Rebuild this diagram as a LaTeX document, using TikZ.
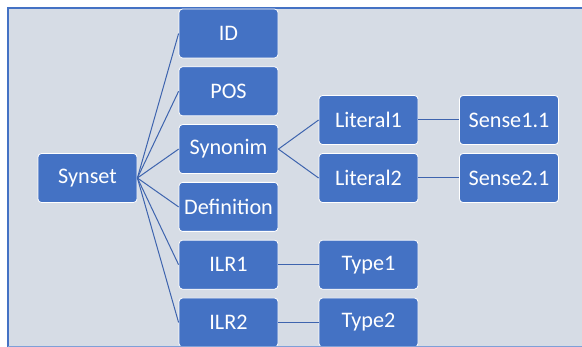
\documentclass[tikz,border=0pt]{standalone}
\usepackage{fontspec}
\setmainfont{Carlito}
\definecolor{boxblue}{HTML}{4472C4}
\definecolor{bgblue}{HTML}{D6DCE5}
\definecolor{linkblue}{HTML}{3E64AE}
\definecolor{lowline}{HTML}{7FA0D8}
\begin{document}
\begin{tikzpicture}[x=1pt,y=-1pt,
  itembox/.style={draw=white,line width=0.8pt,fill=boxblue,rounded corners=3.5pt,
    minimum width=99pt,minimum height=49pt,text=white,inner sep=0pt,
    font=\fontsize{22.2}{25}\selectfont},
  link/.style={draw=linkblue,line width=1pt}]
\useasboundingbox (0,0) rectangle (582,347);
\fill[bgblue] (8,8) rectangle (582,347);
\draw[boxblue,line width=2pt] (8,347) -- (8,8) -- (582,8);
\node[itembox] (synset) at (87.5,178) {Synset};
\node[itembox] (id) at (228.5,33.5) {ID};
\node[itembox] (pos) at (228.5,91.3) {POS};
\node[itembox] (syn) at (228.5,149.1) {Synonim};
\node[itembox] (def) at (228.5,206.9) {Definition};
\node[itembox] (ilr1) at (228.5,264.7) {ILR1};
\node[itembox] (ilr2) at (228.5,322.5) {ILR2};
\node[itembox] (lit1) at (368.5,120) {Literal1};
\node[itembox] (lit2) at (368.5,178) {Literal2};
\node[itembox] (sen1) at (509,120) {Sense1.1};
\node[itembox] (sen2) at (509,178) {Sense2.1};
\node[itembox] (typ1) at (368.5,264.7) {Type1};
\node[itembox] (typ2) at (368.5,322.5) {Type2};
\foreach \c in {id,pos,syn,def,ilr1,ilr2}
  \draw[link] (synset.east) -- (\c.west);
\draw[link] (syn.east) -- (lit1.west);
\draw[link] (syn.east) -- (lit2.west);
\draw[link] (lit1.east) -- (sen1.west);
\draw[link] (lit2.east) -- (sen2.west);
\draw[link] (ilr1.east) -- (typ1.west);
\draw[link] (ilr2.east) -- (typ2.west);
\draw[lowline,line width=1pt] (8,346.5) -- (582,346.5);
\end{tikzpicture}
\end{document}
